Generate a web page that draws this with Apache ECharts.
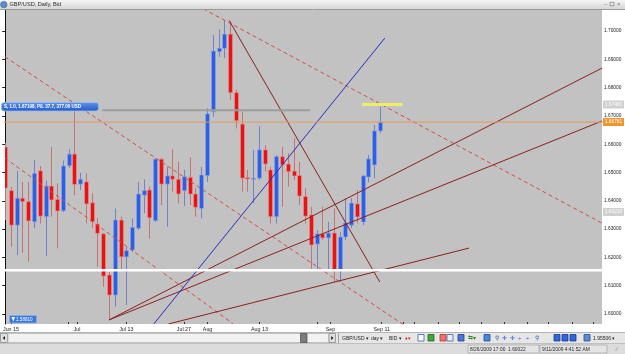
<!DOCTYPE html>
<html><head><meta charset="utf-8">
<script src="https://cdn.jsdelivr.net/npm/echarts@6/dist/echarts.min.js"></script>
<style>html,body{margin:0;padding:0;background:#fff}#c{width:625px;height:354px}</style>
</head><body><div id="c"></div>
<script>
// ---- data (GBP/USD daily, bid) ----
const dates = ['2009-06-12','2009-06-15','2009-06-16','2009-06-17','2009-06-18','2009-06-19','2009-06-22','2009-06-23','2009-06-24','2009-06-25','2009-06-26','2009-06-29','2009-06-30','2009-07-01','2009-07-02','2009-07-03','2009-07-06','2009-07-07','2009-07-08','2009-07-09','2009-07-10','2009-07-13','2009-07-14','2009-07-15','2009-07-16','2009-07-17','2009-07-20','2009-07-21','2009-07-22','2009-07-23','2009-07-24','2009-07-27','2009-07-28','2009-07-29','2009-07-30','2009-07-31','2009-08-03','2009-08-04','2009-08-05','2009-08-06','2009-08-07','2009-08-10','2009-08-11','2009-08-12','2009-08-13','2009-08-14','2009-08-17','2009-08-18','2009-08-19','2009-08-20','2009-08-21','2009-08-24','2009-08-25','2009-08-26','2009-08-27','2009-08-28','2009-08-31','2009-09-01','2009-09-02','2009-09-03','2009-09-04','2009-09-07','2009-09-08','2009-09-09','2009-09-10','2009-09-11'];
const open  = [1.6590,1.6436,1.6314,1.6409,1.6397,1.6326,1.6506,1.6344,1.6452,1.6405,1.6365,1.6524,1.6565,1.6459,1.6467,1.6393,1.6318,1.6283,1.6138,1.6067,1.6332,1.6202,1.6226,1.6303,1.6420,1.6438,1.6330,1.6547,1.6459,1.6488,1.6476,1.6436,1.6483,1.6424,1.6373,1.6489,1.6715,1.6927,1.6939,1.6989,1.6782,1.6671,1.6482,1.6476,1.6480,1.6580,1.6509,1.6344,1.6556,1.6530,1.6505,1.6489,1.6415,1.6350,1.6247,1.6283,1.6269,1.6286,1.6155,1.6272,1.6314,1.6389,1.6325,1.6484,1.6527,1.6647];
const close = [1.6445,1.6314,1.6409,1.6397,1.6329,1.6497,1.6346,1.6452,1.6403,1.6364,1.6523,1.6565,1.6458,1.6476,1.6389,1.6326,1.6285,1.6134,1.6067,1.6332,1.6202,1.6224,1.6306,1.6424,1.6436,1.6340,1.6547,1.6459,1.6488,1.6476,1.6424,1.6485,1.6424,1.6377,1.6491,1.6707,1.6929,1.6939,1.6989,1.6782,1.6683,1.6480,1.6477,1.6480,1.6580,1.6530,1.6344,1.6556,1.6527,1.6503,1.6488,1.6417,1.6346,1.6244,1.6283,1.6269,1.6286,1.6155,1.6272,1.6322,1.6392,1.6343,1.6488,1.6548,1.6647,1.6678];
const low   = [1.6332,1.6238,1.6208,1.6216,1.6185,1.6303,1.6320,1.6205,1.6344,1.6232,1.6360,1.6516,1.6420,1.6438,1.6320,1.6303,1.6167,1.6096,1.5979,1.6026,1.6158,1.6032,1.6219,1.6297,1.6356,1.6267,1.6325,1.6385,1.6308,1.6432,1.6391,1.6382,1.6385,1.6344,1.6338,1.6467,1.6697,1.6909,1.6904,1.6756,1.6656,1.6432,1.6432,1.6391,1.6473,1.6503,1.6320,1.6320,1.6379,1.6450,1.6473,1.6385,1.6320,1.6155,1.6155,1.6261,1.6155,1.6111,1.6113,1.6261,1.6304,1.6320,1.6314,1.6466,1.6480,1.6639];
const high  = [1.6604,1.6450,1.6506,1.6467,1.6467,1.6544,1.6523,1.6471,1.6591,1.6462,1.6542,1.6582,1.6728,1.6499,1.6497,1.6427,1.6339,1.6287,1.6148,1.6373,1.6344,1.6238,1.6338,1.6467,1.6476,1.6450,1.6550,1.6551,1.6520,1.6582,1.6538,1.6509,1.6554,1.6445,1.6520,1.6727,1.6986,1.7006,1.7039,1.7035,1.6792,1.6715,1.6509,1.6580,1.6664,1.6597,1.6520,1.6562,1.6591,1.6568,1.6621,1.6538,1.6445,1.6378,1.6297,1.6379,1.6326,1.6373,1.6290,1.6409,1.6409,1.6438,1.6491,1.6562,1.6668,1.6733];

const yTicks = [1.60,1.61,1.62,1.63,1.64,1.65,1.66,1.67,1.68,1.69,1.70];
const xLabelPos  = [1, 12.47, 21, 31, 35.1, 44.1, 56.4, 65.3];
const xLabelText = ['Jun 15','Jul','Jul 13','Jul 27','Aug','Aug 13','Sep','Sep 11'];
const xMinorTicks = [11, 54.1, 69.1, 71, 75.1, 78.7, 82.5, 86.5, 90.6, 94.2, 98.3, 102];

// drawn objects: [index, price] end points
const upperDash   = [[34.37, 1.7078], [103.5, 1.6321]];
const midDash     = [[-0.03, 1.6909], [69.3, 1.5959]];
const lowDash     = [[-0.03, 1.6551], [39.5, 1.5966]];
const peakLine    = [[38.85, 1.7037], [64.97, 1.6113]];
const fanA        = [[18, 1.5979], [103.5, 1.6869]];
const fanB        = [[18, 1.5979], [103.5, 1.6682]];
const lowSupport  = [[28.35, 1.5965], [80.45, 1.6233]];
const blueLine    = [[25.77, 1.5965], [65.84, 1.6975]];
const whiteLevel  = 1.6155;
const orangeLevel = 1.66781;
const positionLevel = 1.67198, positionSpan = [16.8, 52.9];
const yellowLevel = 1.674, yellowSpan = [61.9, 68.9];

// ---- chart ----
const chart = echarts.init(document.getElementById('c'), null, {renderer: 'canvas'});
const candleData = dates.map((d, k) => [k, open[k], close[k], low[k], high[k]]);
const FONT = '"Liberation Sans", Arial, sans-serif';

function seg(pts, color, width, dash, z) {
  return {type: 'line', data: pts, symbol: 'none', silent: true, clip: true, z: z || 5,
    animation: false, lineStyle: {color: color, width: width, type: dash ? [4, 3] : 'solid'}};
}

const option = {
  animation: false,
  backgroundColor: '#ffffff',
  grid: {left: 0, right: 23, top: 10, bottom: 30, show: true, backgroundColor: '#c2c2c2', borderWidth: 0},
  xAxis: {
    type: 'value', min: -0.03, max: 103.5,
    axisLine: {show: false},
    splitLine: {show: false},
    axisTick: {show: true, inside: true, length: 2, customValues: xLabelPos.concat(xMinorTicks), lineStyle: {color: '#333'}},
    axisLabel: {customValues: xLabelPos, margin: 3, fontSize: 5.3, color: '#222', fontFamily: FONT,
      formatter: v => { const k = xLabelPos.indexOf(v); return k >= 0 ? xLabelText[k] : ''; }}
  },
  yAxis: {
    type: 'value', position: 'right', min: 1.59647, max: 1.70742,
    axisLine: {show: true, lineStyle: {color: '#111', width: 1}},
    splitLine: {show: false},
    axisTick: {show: true, inside: true, length: 3, customValues: yTicks, lineStyle: {color: '#222'}},
    axisLabel: {customValues: yTicks, margin: 2, fontSize: 4.8, color: '#222', fontFamily: FONT,
      formatter: v => v.toFixed(5)}
  },
  series: [
    {
      type: 'custom', data: candleData, z: 3, encode: {x: 0, y: [1, 2, 3, 4]}, clip: true,
      renderItem: function (params, api) {
        const i = api.value(0), o = api.value(1), c = api.value(2), l = api.value(3), h = api.value(4);
        const pO = api.coord([i, o]), pC = api.coord([i, c]);
        const pL = api.coord([i, l]), pH = api.coord([i, h]);
        const cx = Math.round(pO[0]);
        const up = c >= o;
        const top = Math.min(pO[1], pC[1]), bot = Math.max(pO[1], pC[1]);
        return {type: 'group', children: [
          {type: 'line', shape: {x1: cx + 0.5, y1: pH[1], x2: cx + 0.5, y2: pL[1]},
            style: {stroke: up ? '#7282c4' : '#c07474', lineWidth: 1}},
          {type: 'rect', shape: {x: cx - 1.5, y: top, width: 4, height: Math.max(bot - top, 1.2)},
            style: {fill: up ? '#2c5fe4' : '#e51515', stroke: up ? '#8ea6ea' : '#f09090', lineWidth: 0.6}}
        ]};
      }
    },
    seg(upperDash, '#d24a4a', 1, true),
    seg(midDash, '#d24a4a', 1, true),
    seg(lowDash, '#d24a4a', 1, true),
    seg(peakLine, '#8a2020', 1, false),
    seg(fanA, '#8a2020', 1, false),
    seg(fanB, '#8a2020', 1, false),
    seg(lowSupport, '#8a2020', 1, false),
    seg(blueLine, '#2a2ac8', 1, false),
    seg([[-1, whiteLevel], [104, whiteLevel]], '#ffffff', 2.5, false, 7),
    seg([[-1, orangeLevel], [104, orangeLevel]], '#e39a5c', 1, false, 7),
    seg([[positionSpan[0], positionLevel], [positionSpan[1], positionLevel]], '#9c9c9c', 2, false, 6),
    seg([[yellowSpan[0], yellowLevel], [yellowSpan[1], yellowLevel]], '#eeee6a', 3, false, 7)
  ]
};
chart.setOption(option);

// ---- window chrome / labels (UI) ----
const G = echarts.graphic;
const g = [];
function txt(x, y, s, size, color, opts) {
  return Object.assign({type: 'text', z: 50, style: {x: x, y: y, text: s, font: (opts && opts.bold ? 'bold ' : '') + size + 'px ' + FONT,
    fill: color, verticalAlign: 'middle', align: (opts && opts.align) || 'left'}}, {});
}
function rect(x, y, w, h, fill, stroke, r) {
  return {type: 'rect', z: 40, shape: {x: x, y: y, width: w, height: h, r: r || 0}, style: {fill: fill, stroke: stroke || null, lineWidth: stroke ? 0.8 : 0}};
}
// title bar
g.push(rect(0, 0, 625, 9.5, new G.LinearGradient(0, 0, 0, 1, [{offset: 0, color: '#f6f6f6'}, {offset: 1, color: '#d4d4d4'}])));
g.push({type: 'line', z: 41, shape: {x1: 0, y1: 9.5, x2: 625, y2: 9.5}, style: {stroke: '#9a9a9a', lineWidth: 1}});
g.push({type: 'circle', z: 42, shape: {cx: 3.8, cy: 4.6, r: 3.2}, style: {fill: '#5b8fcf', stroke: '#2e5c96', lineWidth: 0.6}});
g.push(txt(9.5, 4.8, 'GBP/USD, Daily, Bid', 5.6, '#2a2a2a'));
g.push(txt(604, 4.2, '–', 6, '#777'));
g.push(rect(610, 2.3, 4, 3.5, null, '#888'));
g.push(txt(617, 4.5, '×', 6, '#777'));
// position label
g.push(rect(1.5, 102.5, 97, 8.5, new G.LinearGradient(0, 0, 0, 1, [{offset: 0, color: '#5d95ec'}, {offset: 1, color: '#2358c6'}]), '#9bbcf2', 2.5));
g.push(txt(4, 107, 'S, 1.0, 1.67198, P/L 37.7, 377.00 USD', 4.5, '#ffffff', {bold: true}));
// low marker label
g.push(rect(9.5, 315.5, 27, 7.5, '#3b78dc', '#8cb0ee', 1));
g.push({type: 'polygon', z: 45, shape: {points: [[11.5, 317], [15, 317], [13.25, 321.5]]}, style: {fill: '#fff'}});
g.push(txt(16, 319.4, '1.58810', 4.6, '#ffffff'));
// y-axis price boxes
g.push(rect(603, 100.5, 21, 8, '#d0d0d0'));
g.push(txt(613.5, 104.6, '1.67400', 4.8, '#ffffff', {align: 'center'}));
g.push(rect(603, 118, 21, 8, '#f0962e'));
g.push(txt(613.5, 122.1, '1.66781', 4.8, '#ffffff', {align: 'center'}));
g.push(rect(603, 208, 21, 8, '#d0d0d0'));
g.push(txt(613.5, 212.1, '1.63210', 4.8, '#ffffff', {align: 'center'}));
// bottom scroll / toolbar row
g.push(rect(0, 332, 625, 11.5, '#e6e6e6'));
g.push({type: 'line', z: 41, shape: {x1: 0, y1: 332.5, x2: 625, y2: 332.5}, style: {stroke: '#b4b4b4', lineWidth: 1}});
g.push(rect(0.5, 333.5, 7, 9, '#e0e0e0', '#8a8a8a'));
g.push({type: 'polygon', z: 45, shape: {points: [[5, 336], [5, 340], [2.7, 338]]}, style: {fill: '#222'}});
g.push(rect(8, 333.5, 321, 9, '#f2f2f2', '#b8b8b8'));
g.push(rect(300.5, 333.5, 6.5, 9, '#7c7c7c', '#555'));
g.push(rect(329, 333.5, 6.5, 9, '#e0e0e0', '#8a8a8a'));
g.push({type: 'polygon', z: 45, shape: {points: [[331.2, 336], [331.2, 340], [333.5, 338]]}, style: {fill: '#222'}});
g.push({type: 'line', z: 41, shape: {x1: 338.5, y1: 333, x2: 338.5, y2: 343}, style: {stroke: '#a0a0a0', lineWidth: 1}});
g.push(txt(342, 338.2, 'GBP/USD ▾', 5, '#222'));
g.push(txt(371, 338.2, 'day ▾', 5, '#222'));
g.push(txt(389, 338.2, 'BID ▾', 5, '#222'));
g.push(txt(405, 338.2, '♦▾', 5, '#d42020'));
// toolbar icons
const icons = [[418, '#ffffff', '#3060c0'], [428, '#3caa3c', '#206020'], [440, '#f07070', '#c03030'], [447, '#e8f0ff', '#4060a0'], [458, '#4a78d8', '#203a80'],
  [484, '#4a86d8', '#1c4aa0'], [554, '#2f66d8', '#1c3a90'], [562, '#2f66d8', '#1c3a90'], [570, '#2f66d8', '#1c3a90'], [584, '#5a8ad8', '#2a4a90']];
icons.forEach(ic => g.push(rect(ic[0], 334.5, 6, 6.5, ic[1], ic[2])));
g.push(txt(468, 338.2, '⇆▾', 5.5, '#2a8a2a'));
[495, 535].forEach(x => g.push(txt(x, 338.2, '⚲', 6, '#3050a0')));
[[502, '✛'], [510, '✛'], [518, '÷'], [526, '÷']].forEach(a => g.push(txt(a[0], 338.2, a[1], 6, '#2050d0')));
g.push(txt(593, 338.2, '1.95506 ▾', 5, '#222'));
// status bar
g.push(rect(0, 343.5, 625, 10.5, '#dcdcdc'));
g.push({type: 'line', z: 41, shape: {x1: 0, y1: 343.5, x2: 625, y2: 343.5}, style: {stroke: '#c0c0c0', lineWidth: 1}});
g.push(rect(468, 345, 71, 8, '#e4e4e4', '#a8a8a8'));
g.push(rect(540, 345, 67, 8, '#e4e4e4', '#a8a8a8'));
g.push(txt(470, 349.2, '8/26/2009 17:00  1.60022', 4.9, '#222'));
g.push(txt(542, 349.2, '9/11/2009 4:41:52 AM', 4.9, '#222'));
g.push(txt(616, 349.5, '⁄⁄', 5, '#999'));
chart.setOption({graphic: g});
</script>
</body></html>
